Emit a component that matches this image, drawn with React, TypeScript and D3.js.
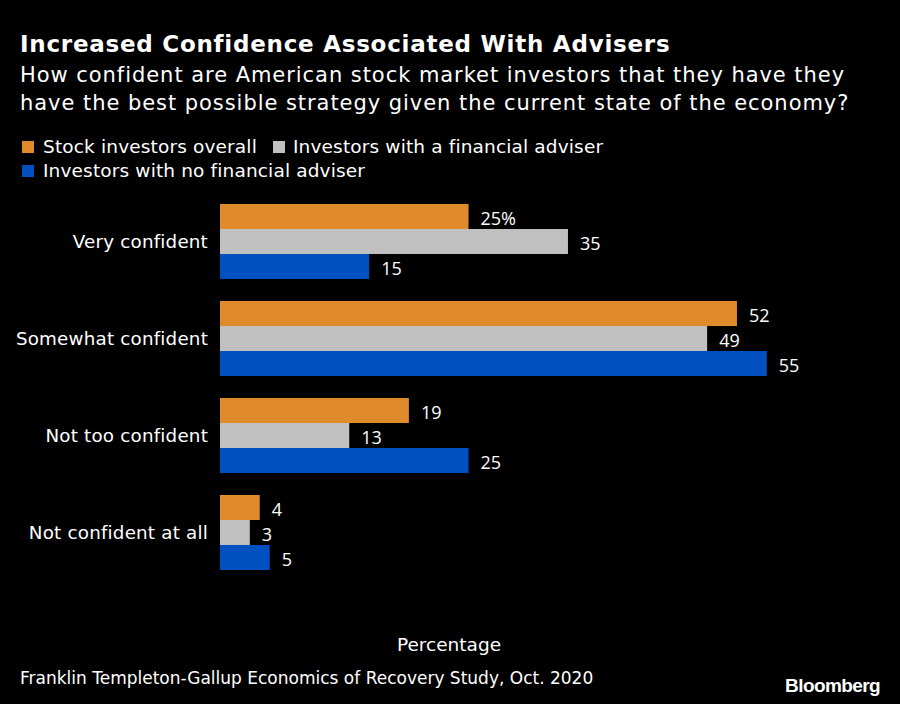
import React from "react";
import * as d3 from "d3";

const categories = ["Very confident", "Somewhat confident", "Not too confident", "Not confident at all"];
const seriesNames = ["Stock investors overall", "Investors with a financial adviser", "Investors with no financial adviser"];
const overall = [25, 52, 19, 4];
const withAdviser = [35, 49, 13, 3];
const noAdviser = [15, 55, 25, 5];
const seriesColors = ["#DF8B2B", "#C0C0C0", "#0050C2"];

const W = 900;
const H = 704;
const FONT = "'DejaVu Sans', sans-serif";
const NUMFONT = "'Open Sans', 'Noto Sans', sans-serif";

export default function App() {
  const values = [overall, withAdviser, noAdviser];
  const x = d3.scaleLinear().domain([0, 60]).range([220, 816.5]);
  const y = d3
    .scaleBand<string>()
    .domain(categories)
    .range([204, 204 + 4 * 97 - 22])
    .paddingInner(22 / 97)
    .paddingOuter(0);
  const inner = d3.scaleBand<number>().domain([0, 1, 2]).range([0, y.bandwidth()]).padding(0);

  return (
    <svg width={W} height={H} style={{ display: "block", position: "absolute", left: 0, top: 0 }} fontFamily={FONT}>
      <rect x={0} y={0} width={W} height={H} fill="#000" />
      <text x={20} y={52} fill="#fff" fontSize={23} fontWeight={700} letterSpacing={0.75}>
        Increased Confidence Associated With Advisers
      </text>
      <text fill="#fff" fontSize={21} letterSpacing={0.95}>
        <tspan x={20} y={82}>How confident are American stock market investors that they have they</tspan>
        <tspan x={20} y={110}>have the best possible strategy given the current state of the economy?</tspan>
      </text>
      {/* legend */}
      {[
        { i: 0, sx: 22, tx: 43, y: 153 },
        { i: 1, sx: 273, tx: 293, y: 153 },
        { i: 2, sx: 22, tx: 43, y: 177 },
      ].map((l) => (
        <g key={l.i}>
          <rect x={l.sx} y={l.y - 12} width={12} height={12} fill={seriesColors[l.i]} />
          <text x={l.tx} y={l.y} fill="#fff" fontSize={18.5} letterSpacing={0.15}>
            {seriesNames[l.i]}
          </text>
        </g>
      ))}
      {categories.map((c, ci) => (
        <g key={c}>
          <text
            x={208}
            y={(y(c) as number) + y.bandwidth() / 2}
            fill="#fff"
            fontSize={18.3}
            letterSpacing={0.2}
            textAnchor="end"
            dominantBaseline="central"
          >
            {c}
          </text>
          {values.map((vals, si) => {
            const by = (y(c) as number) + (inner(si) as number);
            const v = vals[ci];
            return (
              <g key={si}>
                <rect x={x(0)} y={by} width={x(v) - x(0)} height={inner.bandwidth()} fill={seriesColors[si]} />
                <text
                  x={x(v) + 12}
                  y={by + inner.bandwidth() / 2 + 1}
                  fill="#fff"
                  fontSize={18}
                  fontFamily={NUMFONT}
                  dominantBaseline="central"
                >
                  {ci === 0 && si === 0 ? `${v}%` : v}
                </text>
              </g>
            );
          })}
        </g>
      ))}
      <text x={449} y={651} fill="#fff" fontSize={18.5} textAnchor="middle">
        Percentage
      </text>
      <text x={20} y={684} fill="#fff" fontSize={17}>
        Franklin Templeton-Gallup Economics of Recovery Study, Oct. 2020
      </text>
      <text x={880} y={692} fill="#fff" fontSize={19} fontWeight={700} textAnchor="end" fontFamily="'Liberation Sans', Arial, sans-serif" letterSpacing={-0.6}>
        Bloomberg
      </text>
    </svg>
  );
}
